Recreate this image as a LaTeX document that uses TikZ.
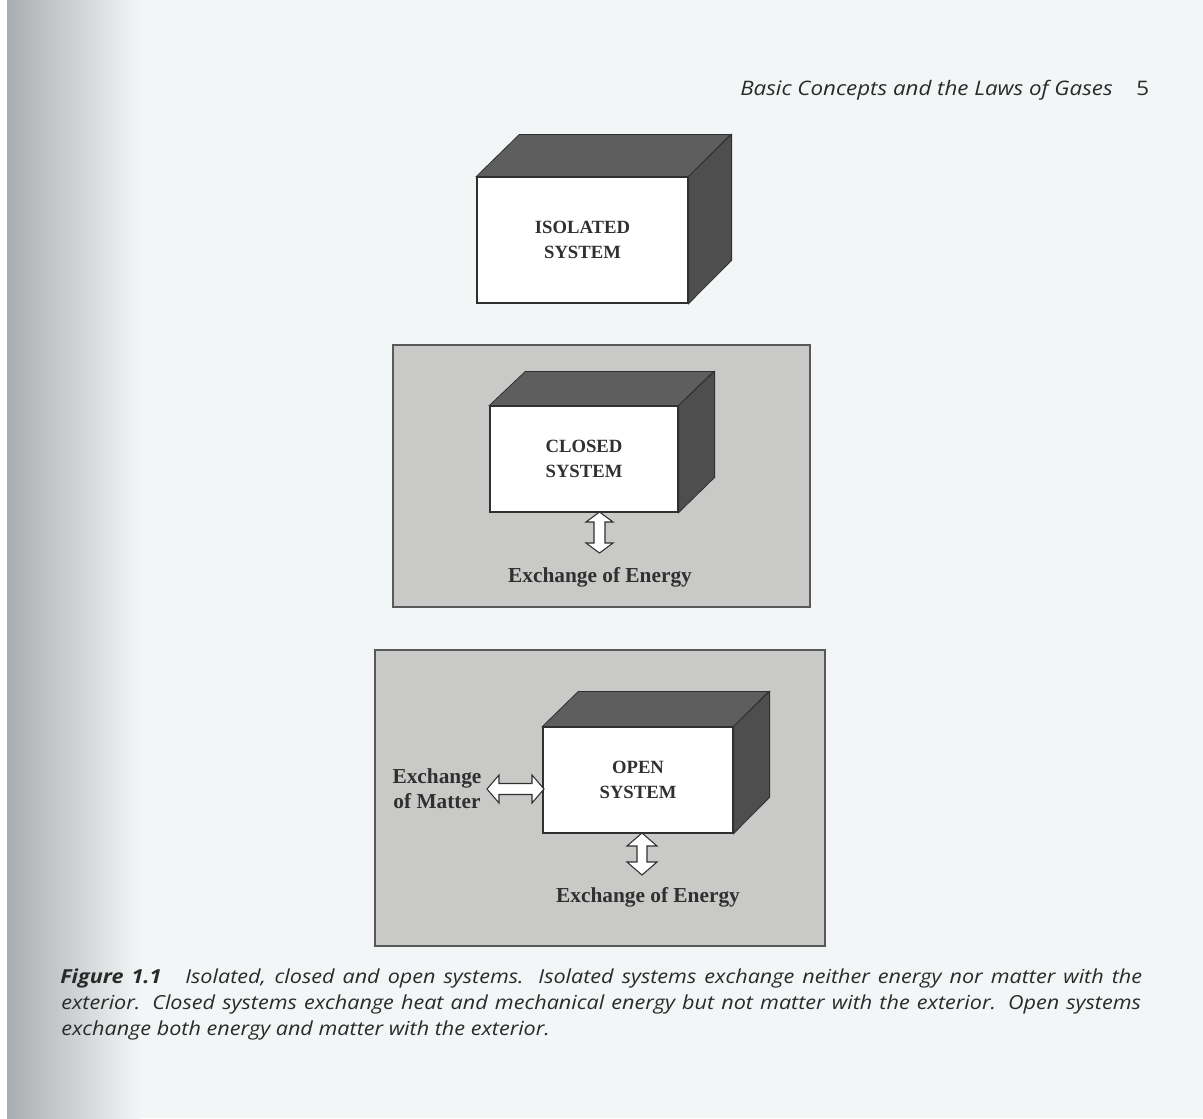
\documentclass[tikz,border=0pt]{standalone}
\usepackage{graphicx}
\usepackage{fontspec}
\setmainfont{Liberation Serif}
\newfontfamily\capfont{Open Sans}
\newcommand\hstretch[1]{\scalebox{1.117}[1]{#1}}
\definecolor{pagebg}{HTML}{F3F6F6}
\definecolor{edgegray}{HTML}{A9ADB0}
\definecolor{panelgray}{HTML}{C9C9C7}
\definecolor{topgray}{HTML}{5E5E5E}
\definecolor{sidegray}{HTML}{4E4E4E}
\definecolor{inkgray}{HTML}{303030}
\definecolor{capink}{HTML}{2A2A2A}
\tikzset{
  front/.style={draw=inkgray, line width=0.9pt, fill=white, inner sep=0pt, font=\bfseries\fontsize{14}{19}\selectfont, text=inkgray, align=center},
  panel/.style={draw=inkgray!80, line width=0.8pt, fill=panelgray},
  toptone/.style={fill=topgray, draw=inkgray, line width=0.6pt},
  sidetone/.style={fill=sidegray, draw=inkgray, line width=0.6pt},
  arrowpoly/.style={draw=inkgray, line width=0.8pt, fill=white, line join=miter},
  xlabel/.style={font=\bfseries\fontsize{16}{19}\selectfont, text=inkgray, align=center, inner sep=0pt},
  caption/.style={font=\capfont\itshape\fontsize{14.5}{19}\selectfont, text=capink, anchor=base west, inner sep=0pt},
  % fat double arrow, horizontal in local coordinates: half length / head half width / shaft half width / head length
  pics/fatarrow/.style args={#1/#2/#3/#4}{code={
    \filldraw[arrowpoly] (-#1,0) -- (-#1+#4,-#2) -- (-#1+#4,-#3) -- (#1-#4,-#3) -- (#1-#4,-#2) -- (#1,0)
      -- (#1-#4,#2) -- (#1-#4,#3) -- (-#1+#4,#3) -- (-#1+#4,#2) -- cycle;
  }},
}
\begin{document}
\begin{tikzpicture}[x=0.75pt, y=-0.75pt]
\useasboundingbox (0,0) rectangle (1203,1118);
% page
\fill[pagebg] (0,0) rectangle (1203,1118);
\fill[white] (0,0) rectangle (7,1118);
\shade[left color=edgegray, right color=pagebg] (7,0) rectangle (140,1118);
% header
\node[font=\capfont\itshape\fontsize{15}{19}\selectfont, text=capink, anchor=base west, inner sep=0pt] (head) at (740,95) {\hstretch{Basic Concepts and the Laws of Gases}};
\node[font=\capfont\fontsize{15}{19}\selectfont, text=capink, anchor=base west, inner sep=0pt] (pnum) at (1136,95) {\hstretch{5}};

% ---------- isolated system ----------
\node[front, minimum width=0.75pt*211, minimum height=0.75pt*126] (iso) at (582.5,240) {ISOLATED\\SYSTEM};
\filldraw[toptone] (iso.north west) -- ++(43,-42) -- ++(211,0) -- (iso.north east) -- cycle;
\filldraw[sidetone] (iso.north east) -- ++(43,-42) -- ++(0,126) -- (iso.south east) -- cycle;

% ---------- closed system ----------
\draw[panel] (393,345) rectangle (810,607);
\node[front, minimum width=0.75pt*188, minimum height=0.75pt*106] (clo) at (584,459) {CLOSED\\SYSTEM};
\filldraw[toptone] (clo.north west) -- ++(36,-34) -- ++(188,0) -- (clo.north east) -- cycle;
\filldraw[sidetone] (clo.north east) -- ++(36,-34) -- ++(0,106) -- (clo.south east) -- cycle;
\coordinate (cloarr) at (599.5,532.5);
\pic[rotate=90] (cloarrow) at (cloarr) {fatarrow={20.5/13.5/5.5/10}};
\node[xlabel] (cloen) at (600,577) {Exchange of Energy};

% ---------- open system ----------
\draw[panel] (375,650) rectangle (825,946);
\node[front, minimum width=0.75pt*190, minimum height=0.75pt*106] (opn) at (638,780) {OPEN\\SYSTEM};
\filldraw[toptone] (opn.north west) -- ++(36,-35) -- ++(190,0) -- (opn.north east) -- cycle;
\filldraw[sidetone] (opn.north east) -- ++(36,-35) -- ++(0,106) -- (opn.south east) -- cycle;
\coordinate (matarr) at (515.5,789);
\pic (matarrow) at (matarr) {fatarrow={28.5/14/5.5/12}};
\node[xlabel] (matter) at (437,789) {Exchange\\of Matter};
\coordinate (opnarr) at (642,854);
\pic[rotate=90] (opnarrow) at (opnarr) {fatarrow={21/15/5/13}};
\node[xlabel] (opnen) at (648,897) {Exchange of Energy};

% ---------- caption ----------
\node[caption] (cap1) at (60,983) {\hstretch{\makebox[726.5pt][s]{\bfseries Figure 1.1\hspace{1.1em}\mdseries Isolated, closed and open systems. Isolated systems exchange neither energy nor matter with the}}};
\node[caption] (cap2) at (61,1009) {\hstretch{\makebox[725pt][s]{exterior. Closed systems exchange heat and mechanical energy but not matter with the exterior. Open systems}}};
\node[caption] (cap3) at (61,1035) {\hstretch{exchange both energy and matter with the exterior.}};
\end{tikzpicture}
\end{document}
